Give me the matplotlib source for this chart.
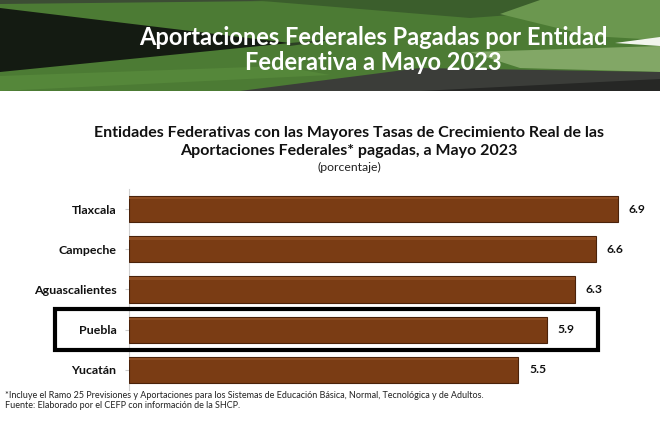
import matplotlib
matplotlib.use("Agg")
import matplotlib.pyplot as plt
from matplotlib.patches import Polygon, Rectangle

states = ["Tlaxcala", "Campeche", "Aguascalientes", "Puebla", "Yucatán"]
values = [6.9, 6.6, 6.3, 5.9, 5.5]
value_labels = ["6.9", "6.6", "6.3", "5.9", "5.5"]

W, H = 660, 425
plt.rcParams['font.family'] = ['Lato', 'DejaVu Sans']
fig = plt.figure(figsize=(6.6, 4.25), dpi=100)

# background banner in pixel coordinates
bg = fig.add_axes([0, 0, 1, 1])
bg.set_xlim(0, W)
bg.set_ylim(H, 0)
bg.axis("off")
bh = 91
def poly(pts, c, z):
    bg.add_patch(Polygon(pts, closed=True, color=c, zorder=z, linewidth=0))
bg.add_patch(Rectangle((0, 0), W, bh, color="#4c7b34", zorder=0, linewidth=0))
poly([(0, 0), (360, 0), (0, 4)], "#3c4d34", 1)
poly([(250, 0), (660, 0), (660, 4), (470, 18)], "#3b5e2c", 1)
poly([(540, 0), (660, 0), (660, 40), (590, 36), (500, 14)], "#6b974f", 2)
poly([(0, 8), (290, 43), (0, 72)], "#141b12", 3)
poly([(290, 43), (345, 38), (290, 46)], "#2c3f24", 3)
poly([(0, 76), (280, 66), (330, 75), (0, bh)], "#55873a", 1)
poly([(470, 52), (660, 46), (660, 72), (520, 68)], "#82a766", 2)
poly([(615, 43), (660, 37), (660, 46)], "#f2f5ee", 3)
poly([(240, bh), (420, 68), (660, 72), (660, bh)], "#3b3d39", 3)
poly([(420, bh), (660, 79), (660, bh)], "#262725", 4)

bg.text(373, 37, "Aportaciones Federales Pagadas por Entidad", color="white",
        fontsize=17.0, fontweight="bold", ha="center", va="center", zorder=6)
bg.text(373, 62, "Federativa a Mayo 2023", color="white",
        fontsize=17.0, fontweight="bold", ha="center", va="center", zorder=6)

bg.text(349, 133, "Entidades Federativas con las Mayores Tasas de Crecimiento Real de las",
        fontsize=11.5, fontweight="bold", ha="center", va="center", color="#111111")
bg.text(349, 151, "Aportaciones Federales* pagadas, a Mayo 2023",
        fontsize=11.5, fontweight="bold", ha="center", va="center", color="#111111")
bg.text(349, 167, "(porcentaje)", fontsize=8.8, ha="center", va="center", color="#222222")

bg.text(5, 396, "*Incluye el Ramo 25 Previsiones y Aportaciones para los Sistemas de Educación Básica, Normal, Tecnológica y de Adultos.",
        fontsize=6.5, ha="left", va="center", color="#222222")
bg.text(5, 406, "Fuente: Elaborado por el CEFP con información de la SHCP.",
        fontsize=6.5, ha="left", va="center", color="#222222")

# bar chart axes
left_px, right_px = 129, 129 + 7.5 * 70.8
top_px, bot_px = 189, 390
ax = fig.add_axes([left_px / W, 1 - bot_px / H, (right_px - left_px) / W, (bot_px - top_px) / H])
ax.patch.set_alpha(0)
y = list(range(len(states)))
ax.barh(y, values, height=0.65, color="#7a3c14", edgecolor="#4a220a", linewidth=0.8, zorder=3)
ax.barh([v - 0.27 for v in y], values, height=0.06, color="#8e4d22", linewidth=0, zorder=4)
for yi, v, lab in zip(y, values, value_labels):
    ax.text(v + 0.15, yi, lab, va="center", ha="left", fontsize=8.7, fontweight="bold", color="#111111")
ax.set_xlim(0, 7.5)
ax.set_ylim(4.5, -0.5)
ax.set_yticks(y)
ax.set_yticklabels(states, fontsize=8.9, fontweight="bold", color="#111111")
ax.tick_params(axis="y", length=3, color="#cccccc", pad=6)
ax.set_xticks([])
for s in ["top", "right", "bottom"]:
    ax.spines[s].set_visible(False)
ax.spines["left"].set_color("#d0d0d0")

# highlight box around Puebla (overlay on top)
ov = fig.add_axes([0, 0, 1, 1])
ov.set_xlim(0, W)
ov.set_ylim(H, 0)
ov.axis("off")
ov.patch.set_alpha(0)
ov.add_patch(Rectangle((55, 309), 543, 41, fill=False, edgecolor="black", linewidth=3.0, zorder=6))

fig.savefig("out.png", dpi=100)
